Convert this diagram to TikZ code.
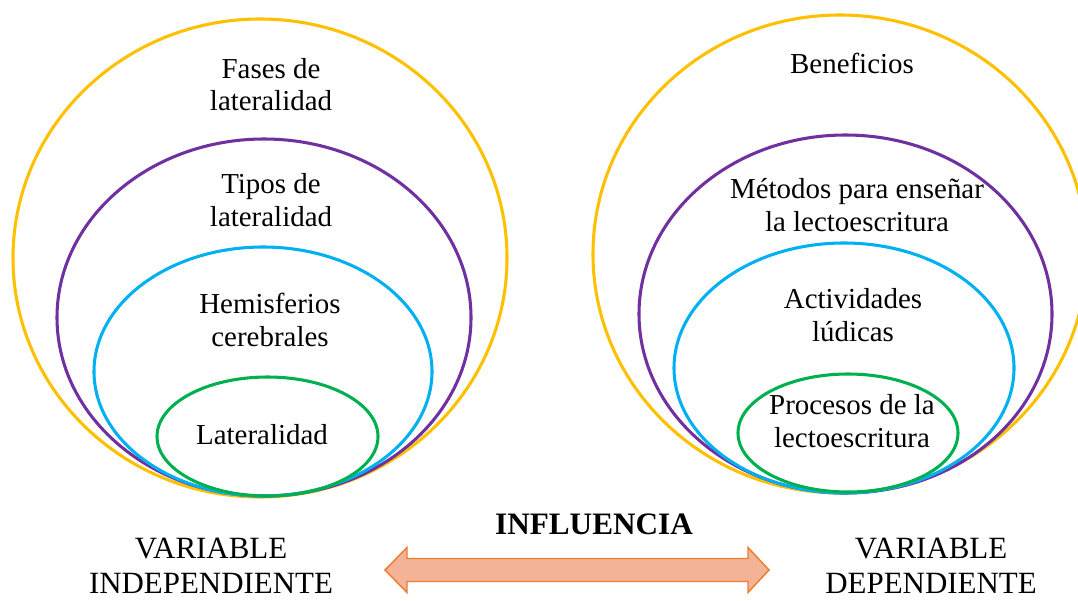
\documentclass[tikz,border=0pt]{standalone}
\usepackage{fontspec}
\setmainfont{Liberation Serif}
\definecolor{cyellow}{HTML}{FFC000}
\definecolor{cpurple}{HTML}{7030A0}
\definecolor{cblue}{HTML}{00B0F0}
\definecolor{cgreen}{HTML}{00B050}
\definecolor{afill}{HTML}{F4B396}
\definecolor{aline}{HTML}{ED7D31}
\begin{document}
\begin{tikzpicture}[x=0.75pt,y=-0.75pt,
  ring/.style={line width=2.3pt},
  lbl/.style={align=center,inner sep=0pt,font=\fontsize{21.7}{24.5}\selectfont},
  var/.style={align=center,inner sep=0pt,font=\fontsize{23.2}{26}\selectfont}]
\useasboundingbox (0,0) rectangle (1078,600);
% left set
\draw[ring,cyellow] (260,258) ellipse [x radius=247,y radius=239];
\draw[ring,cpurple] (264,317.5) ellipse [x radius=207,y radius=178.5];
\draw[ring,cblue] (263,371.5) ellipse [x radius=169,y radius=124.5];
\draw[ring,cgreen] (267.5,436.5) ellipse [x radius=110.5,y radius=59.5];
% right set
\draw[ring,cyellow] (840,254) ellipse [x radius=247,y radius=239];
\draw[ring,cpurple] (845.5,314) ellipse [x radius=206.5,y radius=179];
\draw[ring,cblue] (844,368) ellipse [x radius=170,y radius=125];
\draw[ring,cgreen] (848,433) ellipse [x radius=110,y radius=59];
% left labels
\node[lbl] (fases) at (271,84.5) {Fases de\\lateralidad};
\node[lbl] (tipos) at (271,200) {Tipos de\\lateralidad};
\node[lbl] (hemis) at (270,320) {Hemisferios\\cerebrales};
\node[lbl] (later) at (262,435) {Lateralidad};
% right labels
\node[lbl] (benef) at (852,63) {Beneficios};
\node[lbl] (metod) at (857,205) {Métodos para enseñar\\la lectoescritura};
\node[lbl] (activ) at (853,315) {Actividades\\lúdicas};
\node[lbl] (proce) at (852,421) {Procesos de la\\lectoescritura};
% bottom
\node[var] (vind) at (211,566) {VARIABLE\\INDEPENDIENTE};
\node[var] (vdep) at (931,566) {VARIABLE\\DEPENDIENTE};
\node[var,font=\fontsize{23.4}{26}\selectfont\bfseries] (infl) at (594,524) {INFLUENCIA};
% double arrow
\draw[fill=afill,draw=aline,line width=1.1pt,line join=miter]
  (385,570) -- (407,547.5) -- (407,558.5) -- (748,558.5) -- (748,547.5)
  -- (769,570) -- (748,592.5) -- (748,581.5) -- (407,581.5) -- (407,592.5) -- cycle;
\end{tikzpicture}
\end{document}
